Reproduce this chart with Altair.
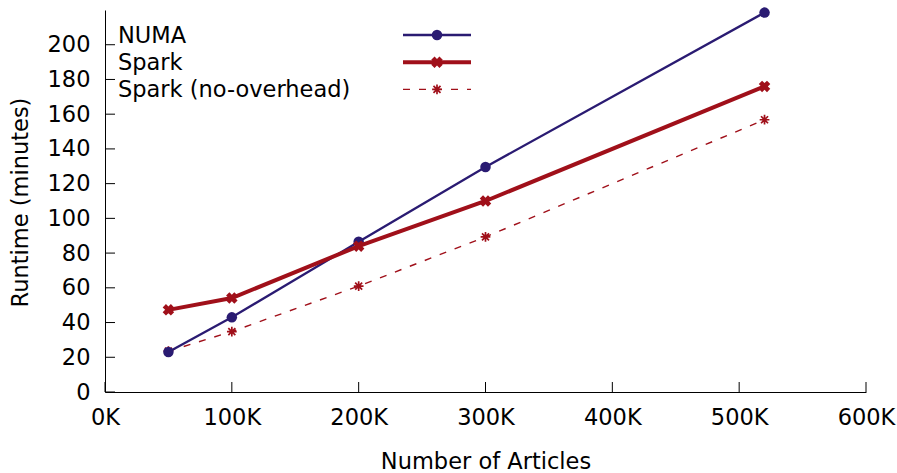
import altair as alt
import pandas as pd

# ---- data ----
articles = [50000, 100000, 200000, 300000, 520000]
numa = [23.0, 43.0, 86.5, 129.6, 218.5]
spark = [47.3, 54.1, 84.0, 110.0, 176.0]
spark_no_overhead = [23.5, 34.8, 61.0, 89.3, 156.8]
series_names = ["NUMA", "Spark", "Spark (no-overhead)"]
x_ticks = [0, 100000, 200000, 300000, 400000, 500000, 600000]
y_ticks = [0, 20, 40, 60, 80, 100, 120, 140, 160, 180, 200]

# ---- layout / style ----
W, H = 761, 382
FONT = "DejaVu Sans"
FS = 22.5
NUMA_C = "#2a1b72"
SPARK_C = "#a0101a"
ASTERISK = "M-1,0L1,0M0,-1L0,1M-0.72,-0.72L0.72,0.72M-0.72,0.72L0.72,-0.72"

xs = alt.Scale(domain=[0, 600000], nice=False, zero=False)
ys = alt.Scale(domain=[0, 220], nice=False, zero=False)

series_values = [numa, spark, spark_no_overhead]
styles = [
    dict(color=NUMA_C, width=2.3, dash=None, shape="circle", size=110, filled=True, angle=0, sw=0),
    dict(color=SPARK_C, width=4.0, dash=None, shape="cross", size=135, filled=True, angle=45, sw=0),
    dict(color=SPARK_C, width=1.4, dash=[7, 9], shape=ASTERISK, size=95, filled=False, angle=0, sw=1.7),
]

x_axis = alt.Axis(
    values=x_ticks, labelExpr="format(datum.value / 1000, 'd') + 'K'",
    ticks=False, grid=False, domain=True, domainColor="black", domainWidth=1,
    labelFont=FONT, labelFontSize=FS, labelColor="black", labelPadding=14, labelFlush=False,
    title="Number of Articles", titleFont=FONT, titleFontSize=FS, titleFontWeight="normal",
    titleColor="black", titleX=380.5, titleY=76, titleBaseline="alphabetic", titleAlign="center",
)
y_axis = alt.Axis(
    values=y_ticks, ticks=False, grid=False, domain=True, domainColor="black", domainWidth=1,
    labelFont=FONT, labelFontSize=FS, labelColor="black", labelPadding=15,
    title="Runtime (minutes)", titleFont=FONT, titleFontSize=FS, titleFontWeight="normal",
    titleColor="black", titleX=-78, titleY=192, titleBaseline="alphabetic", titleAlign="center",
    titleAngle=270,
)


def X(field):
    return alt.X(field, scale=xs, axis=x_axis)


def Y(field):
    return alt.Y(field, scale=ys, axis=y_axis)


layers = []

# inward ticks
yt = pd.DataFrame({"v": y_ticks})
layers.append(
    alt.Chart(yt).mark_rule(color="black", strokeWidth=1).encode(
        y=Y("v:Q"), x=alt.value(0), x2=alt.value(10)
    )
)
xt = pd.DataFrame({"v": x_ticks})
layers.append(
    alt.Chart(xt).mark_rule(color="black", strokeWidth=1).encode(
        x=X("v:Q"), y=alt.value(H), y2=alt.value(H - 10)
    )
)

# series (draw no-overhead first, then NUMA, then Spark)
for idx in [2, 0, 1]:
    name, vals, st = series_names[idx], series_values[idx], styles[idx]
    df = pd.DataFrame({"articles": articles, "runtime": vals, "series": name})
    line_kw = dict(color=st["color"], strokeWidth=st["width"])
    if st["dash"]:
        line_kw["strokeDash"] = st["dash"]
    enc = dict(x=X("articles:Q"), y=Y("runtime:Q"))
    layers.append(alt.Chart(df).mark_line(**line_kw).encode(**enc))
    pt_kw = dict(shape=st["shape"], size=st["size"], filled=st["filled"], color=st["color"], opacity=1)
    if st["angle"]:
        pt_kw["angle"] = st["angle"]
    if st["sw"]:
        pt_kw["strokeWidth"] = st["sw"]
    layers.append(alt.Chart(df).mark_point(**pt_kw).encode(**enc))

# legend (label left, sample right)
for i, name in enumerate(series_names):
    st = styles[i]
    ldf = pd.DataFrame({"name": [name]})
    row_y = 25 + 27.2 * i
    layers.append(
        alt.Chart(ldf).mark_text(
            align="left", baseline="alphabetic", font=FONT, fontSize=FS, color="black"
        ).encode(text="name:N", x=alt.value(13), y=alt.value(row_y + 7.8))
    )
    rule_kw = dict(color=st["color"], strokeWidth=st["width"])
    if st["dash"]:
        rule_kw["strokeDash"] = st["dash"]
    layers.append(
        alt.Chart(ldf).mark_rule(**rule_kw).encode(
            x=alt.value(298), x2=alt.value(366), y=alt.value(row_y)
        )
    )
    pt_kw = dict(shape=st["shape"], size=st["size"], filled=st["filled"], color=st["color"], opacity=1)
    if st["angle"]:
        pt_kw["angle"] = st["angle"]
    if st["sw"]:
        pt_kw["strokeWidth"] = st["sw"]
    layers.append(
        alt.Chart(ldf).mark_point(**pt_kw).encode(x=alt.value(332), y=alt.value(row_y))
    )

chart = (
    alt.layer(*layers)
    .properties(
        width=W, height=H, autosize="none",
        padding={"left": 105, "top": 10, "right": 31, "bottom": 81},
        background="white",
    )
    .configure_view(stroke=None)
)

chart.save("out.html", embed_options={"renderer": "svg", "actions": False})
